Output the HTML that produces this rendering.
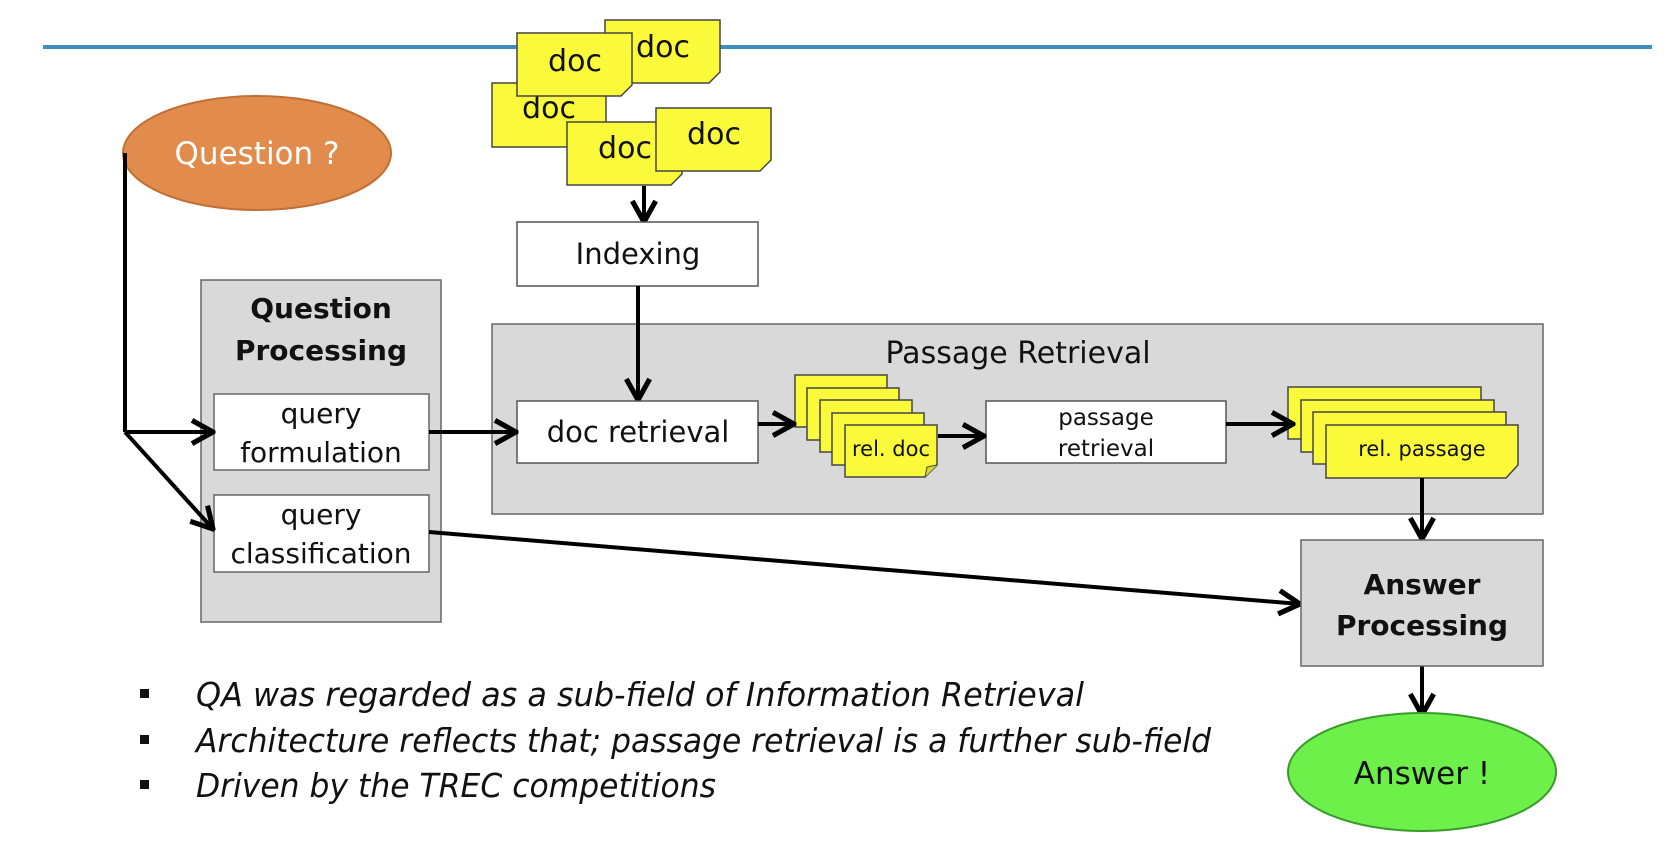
<!DOCTYPE html>
<html><head><meta charset="utf-8"><style>
html,body{margin:0;padding:0;background:#fff;}
svg{display:block;}
text{font-family:"DejaVu Sans","Liberation Sans",sans-serif;fill:#111;}
</style></head><body>
<svg width="1676" height="856" viewBox="0 0 1676 856" xmlns="http://www.w3.org/2000/svg">
<defs>
<marker id="ah" viewBox="0 0 12 12" refX="11" refY="6" markerWidth="7" markerHeight="7" markerUnits="strokeWidth" orient="auto">
<polyline points="2,1 11,6 2,11" fill="none" stroke="#000" stroke-width="2.2"/>
</marker>
<g id="note"><path d="M0,0 H92 V40 L80,52 H0 Z" fill="#fafa3a" stroke="#444" stroke-width="1.5"/><path d="M80,52 L82,42 L92,40" fill="#d8d830" stroke="#444" stroke-width="1"/></g>
</defs>
<line x1="43" y1="47" x2="1652" y2="47" stroke="#3d8fc0" stroke-width="4"/>

<ellipse cx="257" cy="153" rx="134" ry="57" fill="#e18c4c" stroke="#c06f35" stroke-width="2"/>
<text x="257" y="164" font-size="31" text-anchor="middle" style="fill:#fff">Question ?</text>

<g font-size="30">
<g transform="translate(605,20)"><path d="M0,0 H115 V52 L104,63 H0 Z" fill="#fafa3a" stroke="#444" stroke-width="1.5"/><text x="58" y="37" text-anchor="middle">doc</text></g>
<g transform="translate(492,83)"><path d="M0,0 H114 V52 L103,64 H0 Z" fill="#fafa3a" stroke="#444" stroke-width="1.5"/><text x="57" y="35" text-anchor="middle">doc</text></g>
<g transform="translate(517,33)"><path d="M0,0 H115 V52 L104,63 H0 Z" fill="#fafa3a" stroke="#444" stroke-width="1.5"/><text x="58" y="38" text-anchor="middle">doc</text></g>
<g transform="translate(567,122)"><path d="M0,0 H115 V52 L104,63 H0 Z" fill="#fafa3a" stroke="#444" stroke-width="1.5"/><text x="58" y="36" text-anchor="middle">doc</text></g>
<g transform="translate(656,108)"><path d="M0,0 H115 V52 L104,63 H0 Z" fill="#fafa3a" stroke="#444" stroke-width="1.5"/><text x="58" y="36" text-anchor="middle">doc</text></g>
</g>

<line x1="644" y1="186" x2="644" y2="222" stroke="#000" stroke-width="4" marker-end="url(#ah)"/>
<rect x="517" y="222" width="241" height="64" fill="#fff" stroke="#555" stroke-width="1.5"/>
<text x="638" y="264" font-size="29" text-anchor="middle">Indexing</text>

<rect x="201" y="280" width="240" height="342" fill="#d9d9d9" stroke="#666" stroke-width="1.5"/>
<text x="321" y="318" font-size="28" font-weight="bold" text-anchor="middle">Question</text>
<text x="321" y="360" font-size="28" font-weight="bold" text-anchor="middle">Processing</text>
<rect x="214" y="394" width="215" height="76" fill="#fff" stroke="#666" stroke-width="1.5"/>
<text x="321" y="423" font-size="28" text-anchor="middle">query</text>
<text x="321" y="462" font-size="28" text-anchor="middle">formulation</text>
<rect x="214" y="495" width="215" height="77" fill="#fff" stroke="#666" stroke-width="1.5"/>
<text x="321" y="524" font-size="28" text-anchor="middle">query</text>
<text x="321" y="563" font-size="28" text-anchor="middle">classification</text>

<rect x="492" y="324" width="1051" height="190" fill="#d9d9d9" stroke="#666" stroke-width="1.5"/>
<text x="1018" y="363" font-size="30" text-anchor="middle">Passage Retrieval</text>
<line x1="638" y1="286" x2="638" y2="400" stroke="#000" stroke-width="4" marker-end="url(#ah)"/>
<rect x="517" y="401" width="241" height="62" fill="#fff" stroke="#555" stroke-width="1.5"/>
<text x="638" y="442" font-size="29" text-anchor="middle">doc retrieval</text>

<g>
<use href="#note" x="795" y="375"/><use href="#note" x="807" y="388"/><use href="#note" x="820" y="400"/><use href="#note" x="832" y="413"/><use href="#note" x="845" y="425"/>
<text x="891" y="456" font-size="21" text-anchor="middle">rel. doc</text>
</g>
<rect x="986" y="401" width="240" height="62" fill="#fff" stroke="#555" stroke-width="1.5"/>
<text x="1106" y="425" font-size="23" text-anchor="middle">passage</text>
<text x="1106" y="456" font-size="23" text-anchor="middle">retrieval</text>

<g>
<path d="M1288,387 H1481 V427 L1469,439 H1288 Z" fill="#fafa3a" stroke="#444" stroke-width="1.5"/>
<path d="M1301,400 H1494 V440 L1482,452 H1301 Z" fill="#fafa3a" stroke="#444" stroke-width="1.5"/>
<path d="M1313,412 H1506 V452 L1494,464 H1313 Z" fill="#fafa3a" stroke="#444" stroke-width="1.5"/>
<path d="M1326,425 H1518 V465 L1506,478 H1326 Z" fill="#fafa3a" stroke="#444" stroke-width="1.5"/>
<text x="1422" y="456" font-size="21" text-anchor="middle">rel. passage</text>
</g>

<g stroke="#000" stroke-width="4" fill="none">
<polyline points="125,153 125,432"/>
<line x1="125" y1="432" x2="213" y2="432" marker-end="url(#ah)"/>
<line x1="125" y1="432" x2="213" y2="529" marker-end="url(#ah)"/>
<line x1="429" y1="432" x2="516" y2="432" marker-end="url(#ah)"/>
<line x1="758" y1="424" x2="794" y2="424" marker-end="url(#ah)"/>
<line x1="938" y1="436" x2="984" y2="436" marker-end="url(#ah)"/>
<line x1="1226" y1="424" x2="1293" y2="424" marker-end="url(#ah)"/>
<line x1="1422" y1="478" x2="1422" y2="539" marker-end="url(#ah)"/>
<line x1="429" y1="532" x2="1300" y2="604" marker-end="url(#ah)"/>
<line x1="1422" y1="666" x2="1422" y2="715" marker-end="url(#ah)"/>
</g>

<rect x="1301" y="540" width="242" height="126" fill="#d9d9d9" stroke="#666" stroke-width="1.5"/>
<text x="1422" y="594" font-size="28" font-weight="bold" text-anchor="middle">Answer</text>
<text x="1422" y="635" font-size="28" font-weight="bold" text-anchor="middle">Processing</text>

<ellipse cx="1422" cy="772" rx="134" ry="59" fill="#6ef04a" stroke="#3a9a2a" stroke-width="2"/>
<text x="1422" y="784" font-size="31" text-anchor="middle">Answer !</text>

<g font-size="33" font-style="italic">
<rect x="140" y="689" width="9" height="9" fill="#111"/>
<rect x="140" y="735" width="9" height="9" fill="#111"/>
<rect x="140" y="780" width="9" height="9" fill="#111"/>
<text x="196" y="706" textLength="888" lengthAdjust="spacingAndGlyphs">QA was regarded as a sub-field of Information Retrieval</text>
<text x="196" y="752" textLength="1015" lengthAdjust="spacingAndGlyphs">Architecture reflects that; passage retrieval is a further sub-field</text>
<text x="196" y="797" textLength="520" lengthAdjust="spacingAndGlyphs">Driven by the TREC competitions</text>
</g>
</svg>
</body></html>
